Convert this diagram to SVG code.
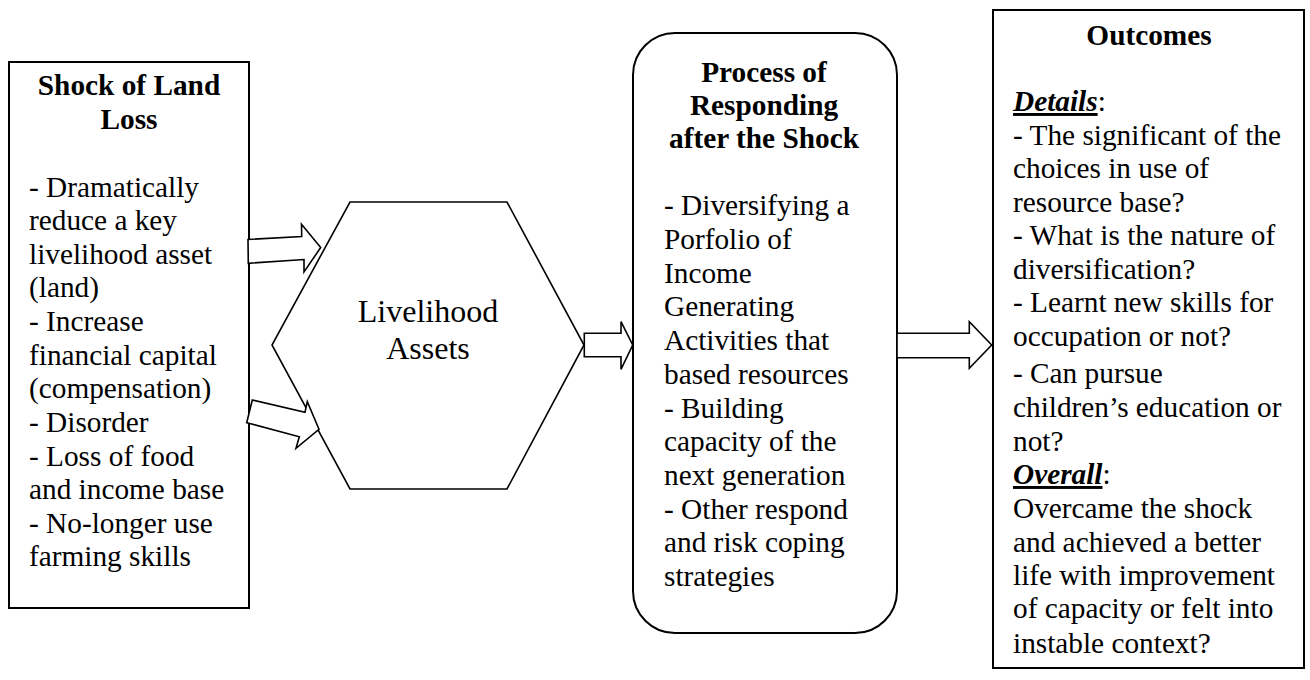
<svg xmlns="http://www.w3.org/2000/svg" width="1310" height="680" viewBox="0 0 1310 680">
<style>
.box{fill:#fff;stroke:#000;stroke-width:2}
.hex{fill:#fff;stroke:#000;stroke-width:1.6}
.arr{fill:#fff;stroke:#000;stroke-width:1.6;stroke-linejoin:miter}
text{font-family:"Liberation Serif","Times New Roman",serif;font-size:29.3px;fill:#000}
.t{font-weight:bold;text-anchor:middle}
.c{text-anchor:middle;font-size:32px}
.h{font-weight:bold;font-style:italic;text-decoration:underline}
</style>
<rect width="1310" height="680" fill="#fff"/>
<g id="shock">
<rect class="box" x="9" y="62" width="240" height="546"/>
<text class="t" x="129" y="95">Shock of Land</text>
<text class="t" x="129" y="129">Loss</text>
<text x="29" y="197">- Dramatically</text>
<text x="29" y="230">reduce a key</text>
<text x="29" y="264">livelihood asset</text>
<text x="29" y="297">(land)</text>
<text x="29" y="331">- Increase</text>
<text x="29" y="365">financial capital</text>
<text x="29" y="398">(compensation)</text>
<text x="29" y="432">- Disorder</text>
<text x="29" y="466">- Loss of food</text>
<text x="29" y="499">and income base</text>
<text x="29" y="533">- No-longer use</text>
<text x="29" y="566">farming skills</text>
</g>
<g id="assets">
<polygon class="hex" points="350,202 507,202 584,345 507,489 350,489 272,345"/>
<text class="c" x="428" y="322">Livelihood</text>
<text class="c" x="428" y="359">Assets</text>
</g>
<g id="process">
<rect class="box" x="633" y="33" width="264" height="600" rx="42" ry="42"/>
<text class="t" x="764" y="82">Process of</text>
<text class="t" x="764" y="115">Responding</text>
<text class="t" x="764" y="148">after the Shock</text>
<text x="664" y="215">- Diversifying a</text>
<text x="664" y="249">Porfolio of</text>
<text x="664" y="283">Income</text>
<text x="664" y="316">Generating</text>
<text x="664" y="350">Activities that</text>
<text x="664" y="384">based resources</text>
<text x="664" y="418">- Building</text>
<text x="664" y="451">capacity of the</text>
<text x="664" y="485">next generation</text>
<text x="664" y="519">- Other respond</text>
<text x="664" y="552">and risk coping</text>
<text x="664" y="586">strategies</text>
</g>
<g id="outcomes">
<rect class="box" x="993" y="10" width="311" height="658"/>
<text class="t" x="1149" y="45">Outcomes</text>
<text x="1013" y="111"><tspan class="h">Details</tspan>:</text>
<text x="1013" y="145">- The significant of the</text>
<text x="1013" y="178">choices in use of</text>
<text x="1013" y="212">resource base?</text>
<text x="1013" y="245">- What is the nature of</text>
<text x="1013" y="279">diversification?</text>
<text x="1013" y="312">- Learnt new skills for</text>
<text x="1013" y="346">occupation or not?</text>
<text x="1013" y="383">- Can pursue</text>
<text x="1013" y="417">children’s education or</text>
<text x="1013" y="451">not?</text>
<text x="1013" y="484"><tspan class="h">Overall</tspan>:</text>
<text x="1013" y="518">Overcame the shock</text>
<text x="1013" y="552">and achieved a better</text>
<text x="1013" y="585">life with improvement</text>
<text x="1013" y="618">of capacity or felt into</text>
<text x="1013" y="653">instable context?</text>
</g>
<g id="connectors">
<polygon class="arr" points="248,239.5 301.7,236.5 301.5,224.3 320.7,247.5 304,272 304,259.5 248.3,263.3"/>
<polygon class="arr" points="252.3,400 305,412.3 307.3,401.7 319,429.3 296,448.3 299.3,436.7 246.7,422.7"/>
<polygon class="arr" points="584.3,333.3 621,333.3 621,321.7 632.7,345 621,369.3 621,356.7 584.3,356.7"/>
<polygon class="arr" points="897,333.3 969.3,333.3 969.3,321.7 991.7,345 969.3,368.3 969.3,357.7 897,357.7"/>
</g>
</svg>
